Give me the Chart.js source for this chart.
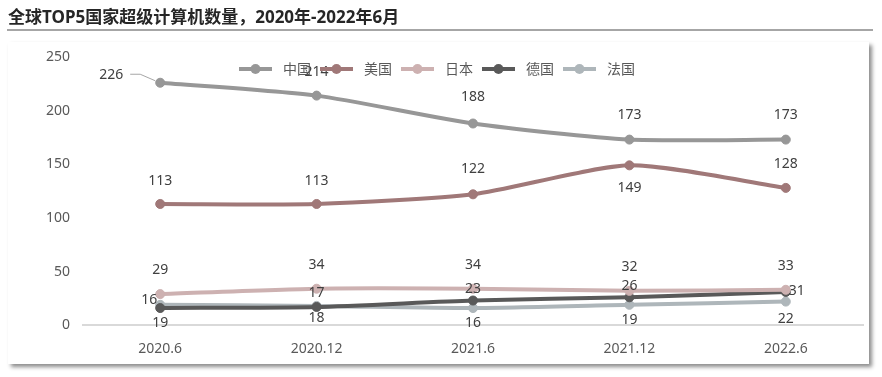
<!DOCTYPE html>
<html><head><meta charset="utf-8">
<script src="https://cdn.jsdelivr.net/npm/chart.js@4/dist/chart.umd.min.js"></script>
<style>html,body{margin:0;padding:0;background:#fff;}#wrap{width:882px;height:377px;position:relative;}</style>
</head><body><div id="wrap"><canvas id="c" width="882" height="377"></canvas></div>
<script>
const title = '全球TOP5国家超级计算机数量，2020年-2022年6月';
const categories = ['2020.6', '2020.12', '2021.6', '2021.12', '2022.6'];
const seriesNames = ['中国', '美国', '日本', '德国', '法国'];
const china = [226, 214, 188, 173, 173];
const usa = [113, 113, 122, 149, 128];
const japan = [29, 34, 34, 32, 33];
const germany = [16, 17, 23, 26, 31];
const france = [19, 18, 16, 19, 22];
const yTicks = [0, 50, 100, 150, 200, 250];

const colors = ['#979797', '#A07878', '#CDB1B1', '#595959', '#AEB6BA'];
// label offsets relative to each point (dx, dy)
const labelOffsets = [
  [[-49,-8],[0,-24],[0,-26],[0,-25],[0,-25]],
  [[0,-23],[0,-23],[0,-25],[0,23],[0,-24]],
  [[0,-24],[0,-24],[0,-24],[0,-24],[0,-24]],
  [[-11,-8],[0,-14],[0,-12],[0,-11],[11,-1]],
  [[0,18],[0,12],[0,15],[0,15],[0,17]]
];
const FONT = '"Noto Sans", "Noto Sans CJK SC", sans-serif';

const seriesData = [china, usa, japan, germany, france];
const datasets = seriesData.map((d, i) => ({
  label: seriesNames[i],
  data: d,
  borderColor: colors[i],
  backgroundColor: colors[i],
  pointBackgroundColor: colors[i],
  pointBorderColor: colors[i],
  borderWidth: 4,
  pointRadius: 4.5,
  pointBorderWidth: 1,
  tension: 0.22,
  fill: false
}));

const framePlugin = {
  id: 'frame',
  beforeDraw(chart) {
    const ctx = chart.ctx;
    ctx.save();
    ctx.fillStyle = '#fff';
    ctx.fillRect(0, 0, chart.width, chart.height);
    ctx.shadowColor = 'rgba(0,0,0,0.45)';
    ctx.shadowBlur = 4;
    ctx.shadowOffsetX = 3;
    ctx.shadowOffsetY = 3;
    ctx.fillRect(8, 42, 861, 322);
    ctx.restore();
    ctx.save();
    ctx.strokeStyle = '#A6A6A6';
    ctx.lineWidth = 2;
    ctx.beginPath();
    ctx.moveTo(7, 30);
    ctx.lineTo(873, 30);
    ctx.stroke();
    ctx.restore();
  }
};

const labelPlugin = {
  id: 'vlabels',
  afterDatasetsDraw(chart) {
    const ctx = chart.ctx;
    ctx.save();
    ctx.font = '14px ' + FONT;
    ctx.fillStyle = '#404040';
    ctx.textAlign = 'center';
    ctx.textBaseline = 'middle';
    chart.data.datasets.forEach((ds, di) => {
      const meta = chart.getDatasetMeta(di);
      meta.data.forEach((pt, i) => {
        const off = labelOffsets[di][i];
        ctx.fillText(String(ds.data[i]), pt.x + off[0], pt.y + off[1]);
      });
    });
    // leader line for first China label
    const p = chart.getDatasetMeta(0).data[0];
    ctx.strokeStyle = '#A6A6A6';
    ctx.lineWidth = 1;
    ctx.beginPath();
    ctx.moveTo(p.x - 30, p.y - 8.5);
    ctx.lineTo(p.x - 20, p.y - 8.5);
    ctx.lineTo(p.x - 5, p.y - 2);
    ctx.stroke();
    ctx.restore();
  },
  afterDraw(chart) {
    // legend
    const ctx = chart.ctx;
    ctx.save();
    ctx.font = '14px ' + FONT;
    const symW = 33, gap = 11, after = 9;
    const items = chart.data.datasets.map(ds => ({ds, tw: ctx.measureText(ds.label).width}));
    let total = 0;
    items.forEach(it => total += symW + gap + it.tw + after);
    total -= after;
    let x = 437 - total / 2;
    const y = 69;
    items.forEach(it => {
      ctx.strokeStyle = it.ds.borderColor;
      ctx.lineWidth = 4;
      ctx.beginPath();
      ctx.moveTo(x, y);
      ctx.lineTo(x + symW, y);
      ctx.stroke();
      ctx.fillStyle = it.ds.borderColor;
      ctx.beginPath();
      ctx.arc(x + symW / 2, y, 5, 0, Math.PI * 2);
      ctx.fill();
      ctx.fillStyle = '#595959';
      ctx.textAlign = 'left';
      ctx.textBaseline = 'middle';
      ctx.fillText(it.ds.label, x + symW + gap, y + 1);
      x += symW + gap + it.tw + after;
    });
    ctx.restore();
  }
};

new Chart(document.getElementById('c'), {
  type: 'line',
  data: { labels: categories, datasets },
  options: {
    responsive: false,
    animation: false,
    events: [],
    layout: { padding: { left: 8, right: 18, top: 0, bottom: 5 } },
    plugins: {
      legend: { display: false },
      tooltip: { enabled: false },
      title: {
        display: true,
        text: title,
        align: 'start',
        color: '#262626',
        font: { size: 17, weight: 'bold', family: FONT, lineHeight: 1.2 },
        padding: { top: 8, bottom: 28.6 }
      }
    },
    scales: {
      x: {
        offset: true,
        grid: { display: false, drawTicks: false },
        border: { display: false },
        ticks: { color: '#595959', font: { size: 14, family: FONT }, padding: 15, maxRotation: 0 }
      },
      y: {
        min: 0, max: 250,
        afterFit(s) { s.width = 74; },
        afterBuildTicks(s) { s.ticks = yTicks.map(v => ({ value: v })); },
        grid: {
          drawTicks: false,
          color: ctx => ctx.tick && ctx.tick.value === 0 ? '#D9D9D9' : 'rgba(0,0,0,0)',
          lineWidth: 2
        },
        border: { display: false },
        ticks: { color: '#595959', font: { size: 14, family: FONT }, padding: 12 }
      }
    }
  },
  plugins: [framePlugin, labelPlugin]
});
</script>
</body></html>
